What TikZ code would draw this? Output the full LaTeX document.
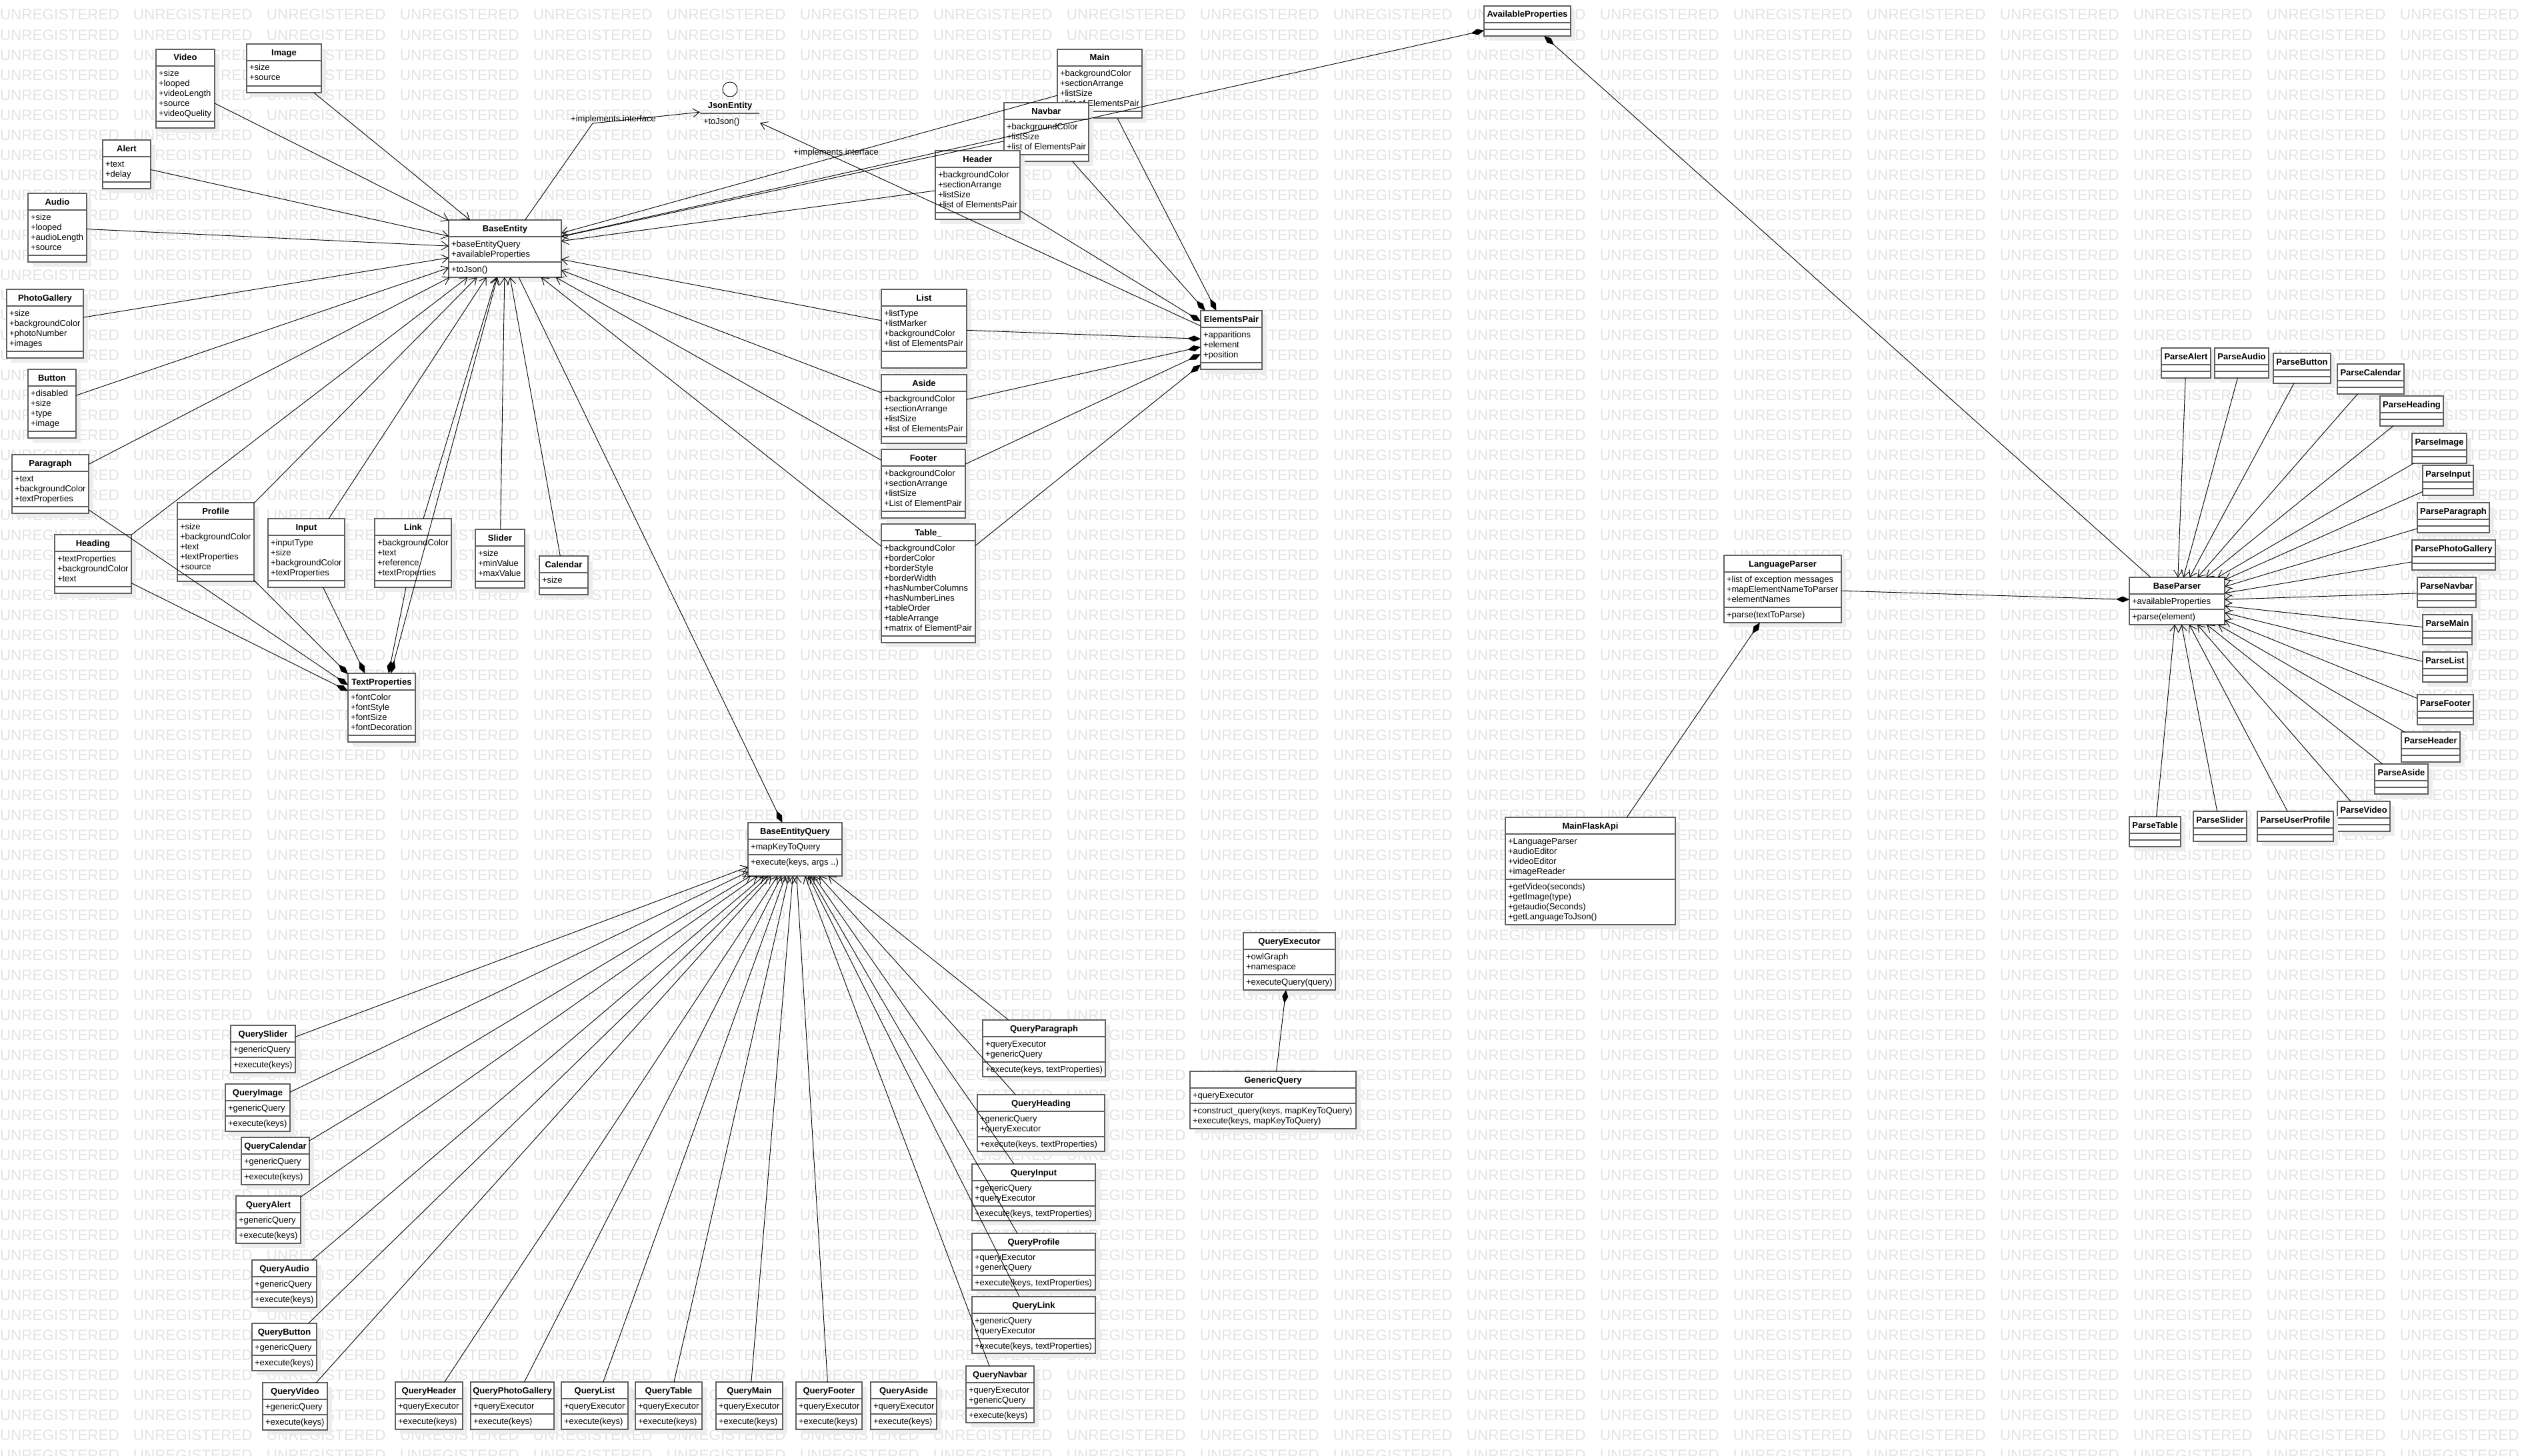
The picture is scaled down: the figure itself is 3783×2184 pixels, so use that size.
\documentclass[tikz,border=0pt]{standalone}
\usepackage{fontspec}
\setmainfont{Liberation Sans}
\usetikzlibrary{arrows.meta,shadows}

% rows of a class compartment, first baseline at the node's base
\newcommand\rows[1]{\begin{tabular}[t]{@{}l@{}}#1\end{tabular}}
% one row of the background stamp
\newcommand\wmrow{\foreach \k in {1,...,19}{\makebox[200pt][l]{UNREGISTERED}}}

% #1 name, #2 left, #3 top, #4 width, #5 title,
% #6 attribute compartment height, #7 attributes,
% #8 operation compartment height, #9 operations
\newcommand\umlclass[9]{%
  \pgfmathsetmacro\clsh{25+#6+#8}%
  \node[classbox, minimum width=#4pt, minimum height=\clsh pt, anchor=north west] (#1) at (#2,#3) {};%
  \draw[divider] (#2,{#3+25}) -- ({#2+#4},{#3+25});%
  \draw[divider] (#2,{#3+25+#6}) -- ({#2+#4},{#3+25+#6});%
  \node[classtitle, anchor=base] (#1-t) at ({#2+#4/2},{#3+17}) {#5};%
  \node[member, anchor=base west] (#1-a) at ({#2+4},{#3+40}) {\rows{#7}};%
  \node[member, anchor=base west] (#1-o) at ({#2+4},{#3+40+#6}) {\rows{#9}};%
}

\begin{document}
\begin{tikzpicture}[x=1pt,y=-1pt,
  every node/.style={inner sep=0pt, outer sep=0pt},
  classbox/.style={draw=black!62, line width=1.5pt, fill=white,
    drop shadow={shadow xshift=7pt, shadow yshift=-7pt, fill=black!7, opacity=1}},
  divider/.style={draw=black!62, line width=1.5pt},
  classtitle/.style={font=\fontsize{13}{15}\selectfont\bfseries},
  member/.style={font=\fontsize{13}{15}\selectfont},
  wm/.style={font=\fontsize{22.5}{27}\selectfont, text=black!11},
  conn/.style={draw=black, line width=0.9pt},
  gen/.style={conn, -{Straight Barb[length=10pt, width=13pt, line width=0.9pt]}},
  comp/.style={conn, -{Diamond[length=20pt, width=9pt]}},
]
\useasboundingbox (0,0) rectangle (3783,2184);
\fill[white] (0,0) rectangle (3783,2184);

% background stamp
\begin{scope}
  \clip (0,0) rectangle (3783,2184);
  \foreach \r in {0,...,72}{
    \node[wm, anchor=base west] (wm\r) at (0,{30+30*\r}) {\wmrow};
  }
\end{scope}

% ---------------- entity classes ----------------
\umlclass{video}{234}{74}{88}{Video}{83}{+size\\+looped\\+videoLength\\+source\\+videoQuelity}{10}{}
\umlclass{image}{370}{66}{112}{Image}{38}{+size\\+source}{10}{}
\umlclass{alert}{154}{210}{72}{Alert}{38}{+text\\+delay}{10}{}
\umlclass{audio}{42}{290}{88}{Audio}{68}{+size\\+looped\\+audioLength\\+source}{10}{}
\umlclass{photogallery}{10}{434}{115}{PhotoGallery}{68}{+size\\+backgroundColor\\+photoNumber\\+images}{10}{}
\umlclass{button}{42}{554}{72}{Button}{68}{+disabled\\+size\\+type\\+image}{10}{}
\umlclass{paragraph}{18}{682}{115}{Paragraph}{53}{+text\\+backgroundColor\\+textProperties}{10}{}
\umlclass{heading}{82}{802}{115}{Heading}{53}{+textProperties\\+backgroundColor\\+text}{10}{}
\umlclass{profile}{266}{754}{115}{Profile}{83}{+size\\+backgroundColor\\+text\\+textProperties\\+source}{10}{}
\umlclass{input}{402}{778}{115}{Input}{68}{+inputType\\+size\\+backgroundColor\\+textProperties}{10}{}
\umlclass{linkcls}{562}{778}{115}{Link}{68}{+backgroundColor\\+text\\+reference\\+textProperties}{10}{}
\umlclass{slider}{713}{794}{74}{Slider}{53}{+size\\+minValue\\+maxValue}{10}{}
\umlclass{calendar}{809}{834}{73}{Calendar}{23}{+size}{10}{}
\umlclass{textprops}{522}{1010}{101}{TextProperties}{68}{+fontColor\\+fontStyle\\+fontSize\\+fontDecoration}{10}{}
\umlclass{baseentity}{673}{330}{169}{BaseEntity}{38}{+baseEntityQuery\\+availableProperties}{23}{+toJson()}
\umlclass{mainent}{1586}{74}{127}{Main}{68}{+backgroundColor\\+sectionArrange\\+listSize\\+list of ElementsPair}{10}{}
\umlclass{navbar}{1506}{154}{127}{Navbar}{53}{+backgroundColor\\+listSize\\+list of ElementsPair}{10}{}
\umlclass{header}{1403}{226}{127}{Header}{68}{+backgroundColor\\+sectionArrange\\+listSize\\+list of ElementsPair}{10}{}
\umlclass{listc}{1322}{434}{128}{List}{68}{+listType\\+listMarker\\+backgroundColor\\+list of ElementsPair}{25}{}
\umlclass{aside}{1322}{562}{128}{Aside}{68}{+backgroundColor\\+sectionArrange\\+listSize\\+list of ElementsPair}{10}{}
\umlclass{footer}{1322}{674}{126}{Footer}{68}{+backgroundColor\\+sectionArrange\\+listSize\\+List of ElementPair}{10}{}
\umlclass{table}{1322}{786}{141}{Table\_}{143}{+backgroundColor\\+borderColor\\+borderStyle\\+borderWidth\\+hasNumberColumns\\+hasNumberLines\\+tableOrder\\+tableArrange\\+matrix of ElementPair}{10}{}
\umlclass{elementspair}{1801}{466}{92}{ElementsPair}{53}{+apparitions\\+element\\+position}{10}{}
\umlclass{availprops}{2226}{9}{130}{AvailableProperties}{10}{}{10}{}

% interface
\node[circle, draw=black, line width=0.9pt, fill=white, minimum size=22pt] (json-icon) at (1095,134) {};
\node[classtitle, anchor=base] (json-t) at (1095,162) {JsonEntity};
\draw[divider] (1050,170) -- (1139,170);
\node[member, anchor=base west] (json-o) at (1055,186) {+toJson()};
\node[minimum width=90pt, minimum height=45pt] (json) at (1095,163.5) {};
\coordinate (bend1) at (889,185);
\node[member] (impl1) at (920,179) {+implements interface};
\node[member] (impl2) at (1254,229) {+implements interface};

% ---------------- parsers ----------------
\umlclass{baseparser}{3194}{866}{143}{BaseParser}{23}{+availableProperties}{23}{+parse(element)}
\umlclass{langparser}{2586}{833}{176}{LanguageParser}{53}{+list of exception messages\\+mapElementNameToParser\\+elementNames}{23}{+parse(textToParse)}
\umlclass{flaskapi}{2258}{1226}{255}{MainFlaskApi}{68}{+LanguageParser\\+audioEditor\\+videoEditor\\+imageReader}{68}{+getVideo(seconds)\\+getImage(type)\\+getaudio(Seconds)\\+getLanguageToJson()}

\umlclass{palert}{3242}{522}{74}{ParseAlert}{10}{}{10}{}
\umlclass{paudio}{3322}{522}{81}{ParseAudio}{10}{}{10}{}
\umlclass{pbutton}{3410}{530}{86}{ParseButton}{10}{}{10}{}
\umlclass{pcalendar}{3506}{546}{100}{ParseCalendar}{10}{}{10}{}
\umlclass{pheading}{3570}{594}{95}{ParseHeading}{10}{}{10}{}
\umlclass{pimage}{3618}{650}{82}{ParseImage}{10}{}{10}{}
\umlclass{pinput}{3634}{698}{76}{ParseInput}{10}{}{10}{}
\umlclass{pparagraph}{3626}{754}{108}{ParseParagraph}{10}{}{10}{}
\umlclass{pphotogallery}{3618}{810}{125}{ParsePhotoGallery}{10}{}{10}{}
\umlclass{pnavbar}{3626}{866}{88}{ParseNavbar}{10}{}{10}{}
\umlclass{pmain}{3634}{922}{74}{ParseMain}{10}{}{10}{}
\umlclass{plist}{3634}{978}{67}{ParseList}{10}{}{10}{}
\umlclass{pfooter}{3626}{1042}{84}{ParseFooter}{10}{}{10}{}
\umlclass{pheader}{3602}{1098}{88}{ParseHeader}{10}{}{10}{}
\umlclass{paside}{3562}{1146}{80}{ParseAside}{10}{}{10}{}
\umlclass{pvideo}{3506}{1202}{79}{ParseVideo}{10}{}{10}{}
\umlclass{puserprofile}{3386}{1217}{114}{ParseUserProfile}{10}{}{10}{}
\umlclass{pslider}{3290}{1217}{80}{ParseSlider}{10}{}{10}{}
\umlclass{ptable}{3194}{1225}{77}{ParseTable}{10}{}{10}{}

% ---------------- queries ----------------
\umlclass{beq}{1122}{1234}{141}{BaseEntityQuery}{23}{+mapKeyToQuery}{32}{+execute(keys, args ..)}
\umlclass{queryexec}{1865}{1399}{138}{QueryExecutor}{38}{+owlGraph\\+namespace}{23}{+executeQuery(query)}
\umlclass{genericquery}{1785}{1607}{249}{GenericQuery}{23}{+queryExecutor}{38}{+construct\_query(keys, mapKeyToQuery)\\+execute(keys, mapKeyToQuery)}

\umlclass{qslider}{346}{1538}{97}{QuerySlider}{23}{+genericQuery}{23}{+execute(keys)}
\umlclass{qimage}{338}{1626}{97}{QueryImage}{23}{+genericQuery}{23}{+execute(keys)}
\umlclass{qcalendar}{362}{1706}{102}{QueryCalendar}{23}{+genericQuery}{23}{+execute(keys)}
\umlclass{qalert}{354}{1794}{97}{QueryAlert}{23}{+genericQuery}{23}{+execute(keys)}
\umlclass{qaudio}{378}{1890}{97}{QueryAudio}{23}{+genericQuery}{23}{+execute(keys)}
\umlclass{qbutton}{378}{1985}{97}{QueryButton}{23}{+genericQuery}{23}{+execute(keys)}
\umlclass{qvideo}{394}{2074}{97}{QueryVideo}{23}{+genericQuery}{23}{+execute(keys)}

\umlclass{qheader}{593}{2073}{101}{QueryHeader}{23}{+queryExecutor}{23}{+execute(keys)}
\umlclass{qphotogallery}{706}{2073}{125}{QueryPhotoGallery}{23}{+queryExecutor}{23}{+execute(keys)}
\umlclass{qlist}{842}{2073}{100}{QueryList}{23}{+queryExecutor}{23}{+execute(keys)}
\umlclass{qtable}{953}{2073}{100}{QueryTable}{23}{+queryExecutor}{23}{+execute(keys)}
\umlclass{qmain}{1074}{2073}{100}{QueryMain}{23}{+queryExecutor}{23}{+execute(keys)}
\umlclass{qfooter}{1194}{2073}{99}{QueryFooter}{23}{+queryExecutor}{23}{+execute(keys)}
\umlclass{qaside}{1306}{2073}{99}{QueryAside}{23}{+queryExecutor}{23}{+execute(keys)}

\umlclass{qparagraph}{1474}{1530}{184}{QueryParagraph}{38}{+queryExecutor\\+genericQuery}{22}{+execute(keys, textProperties)}
\umlclass{qheading}{1466}{1642}{191}{QueryHeading}{38}{+genericQuery\\+queryExecutor}{22}{+execute(keys, textProperties)}
\umlclass{qinput}{1458}{1746}{185}{QueryInput}{38}{+genericQuery\\+queryExecutor}{22}{+execute(keys, textProperties)}
\umlclass{qprofile}{1458}{1850}{185}{QueryProfile}{38}{+queryExecutor\\+genericQuery}{22}{+execute(keys, textProperties)}
\umlclass{qlink}{1458}{1945}{185}{QueryLink}{38}{+genericQuery\\+queryExecutor}{22}{+execute(keys, textProperties)}
\umlclass{qnavbar}{1449}{2049}{102}{QueryNavbar}{38}{+queryExecutor\\+genericQuery}{22}{+execute(keys)}

% ---------------- connectors ----------------
\foreach \c in {video,image,alert,audio,photogallery,button,paragraph,heading,
                profile,input,linkcls,slider,calendar,mainent,navbar,header,
                listc,aside,footer,table}
  \draw[gen] (\c) -- (baseentity);
\foreach \c in {paragraph,heading,profile,input,linkcls}
  \draw[comp] (\c) -- (textprops);
\draw[conn, {Diamond[length=20pt, width=9pt]}-{Straight Barb[length=10pt, width=13pt, line width=0.9pt]}] (textprops) -- (baseentity);
\foreach \c in {mainent,navbar,header,listc,aside,footer,table}
  \draw[comp] (\c) -- (elementspair);
\draw[gen] (elementspair) -- (json);
\draw[gen] (baseentity) -- (bend1) -- (json);
\draw[comp] (baseentity) -- (availprops);
\draw[comp] (baseparser) -- (availprops);
\foreach \c in {palert,paudio,pbutton,pcalendar,pheading,pimage,pinput,pparagraph,
                pphotogallery,pnavbar,pmain,plist,pfooter,pheader,paside,pvideo,
                puserprofile,pslider,ptable}
  \draw[gen] (\c) -- (baseparser);
\draw[comp] (langparser) -- (baseparser);
\draw[comp] (flaskapi) -- (langparser);
\draw[comp] (genericquery) -- (queryexec);
\draw[comp] (baseentity) -- (beq);
\foreach \c in {qslider,qimage,qcalendar,qalert,qaudio,qbutton,qvideo,qheader,
                qphotogallery,qlist,qtable,qmain,qfooter,qparagraph,qheading,
                qinput,qprofile,qlink,qnavbar}
  \draw[gen] (\c) -- (beq);
\end{tikzpicture}
\end{document}
